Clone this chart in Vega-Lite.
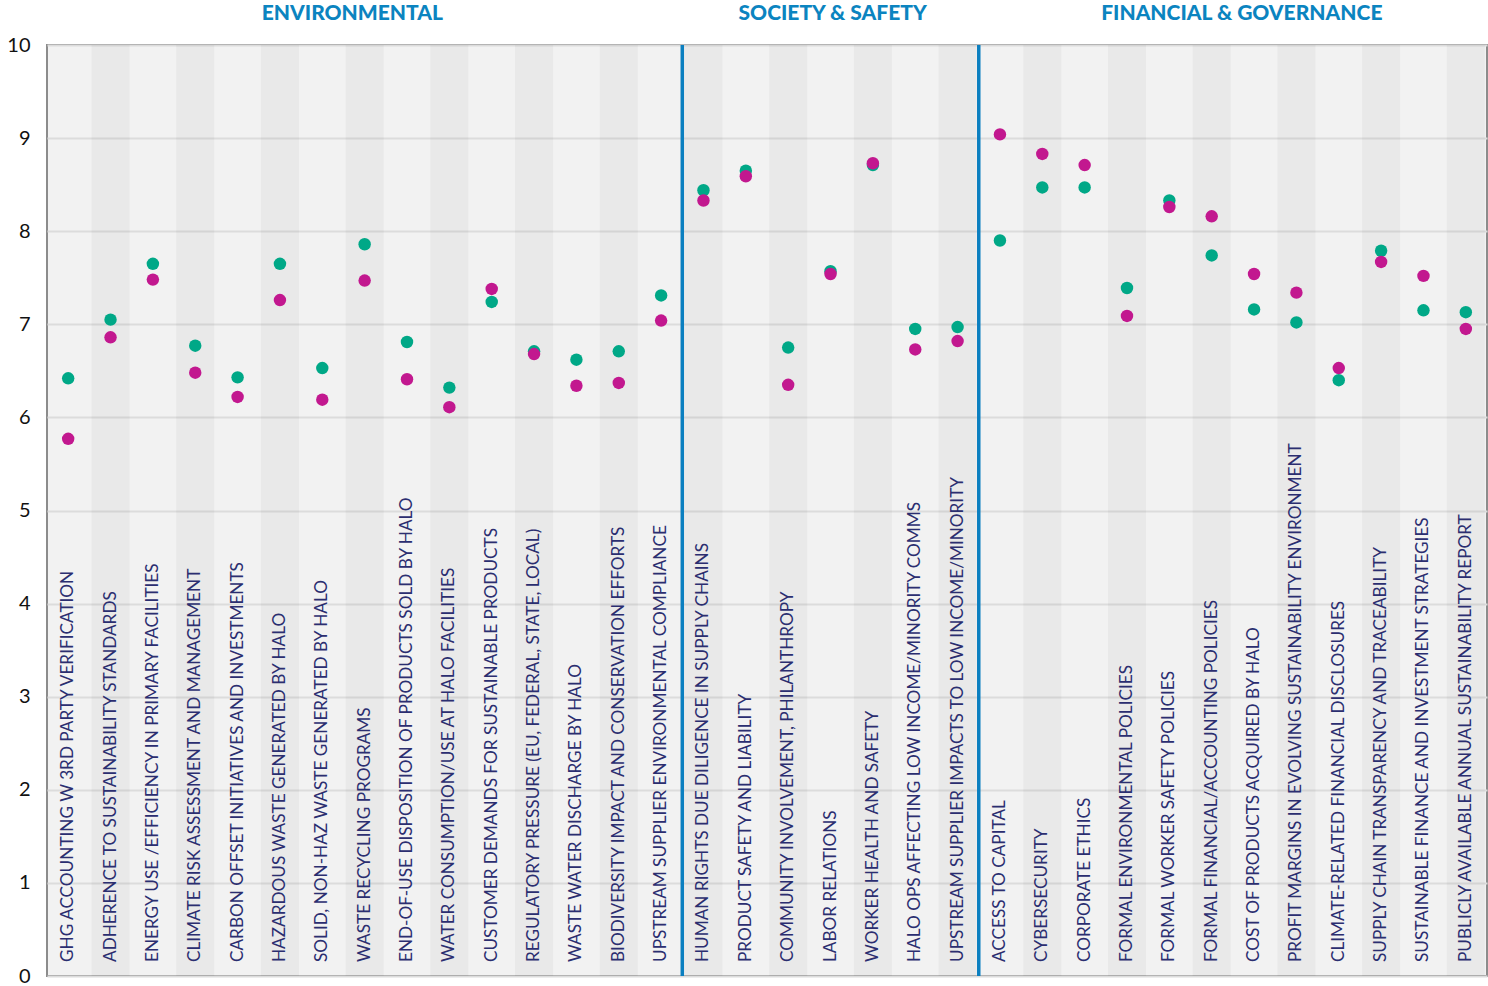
{
  "$schema": "https://vega.github.io/schema/vega-lite/v6.json",
  "width": 1440,
  "height": 931,
  "autosize": "none",
  "padding": {"left": 47, "top": 45, "right": 1, "bottom": 10},
  "background": "white",
  "config": {"view": {"fill": "#f2f2f2", "stroke": "#8c8c8c", "strokeWidth": 2}, "font": "Lato"},
  "data": {"values": [
    {"cat": "GHG ACCOUNTING W 3RD PARTY VERIFICATION", "group": "ENVIRONMENTAL", "Series 1": 6.42, "Series 2": 5.77},
    {"cat": "ADHERENCE TO  SUSTAINABILITY STANDARDS", "group": "ENVIRONMENTAL", "Series 1": 7.05, "Series 2": 6.86},
    {"cat": "ENERGY USE /EFFICIENCY IN PRIMARY FACILITIES", "group": "ENVIRONMENTAL", "Series 1": 7.65, "Series 2": 7.48},
    {"cat": "CLIMATE RISK ASSESSMENT AND MANAGEMENT", "group": "ENVIRONMENTAL", "Series 1": 6.77, "Series 2": 6.48},
    {"cat": "CARBON OFFSET INITIATIVES AND INVESTMENTS", "group": "ENVIRONMENTAL", "Series 1": 6.43, "Series 2": 6.22},
    {"cat": "HAZARDOUS WASTE GENERATED BY HALO", "group": "ENVIRONMENTAL", "Series 1": 7.65, "Series 2": 7.26},
    {"cat": "SOLID, NON-HAZ  WASTE GENERATED BY HALO", "group": "ENVIRONMENTAL", "Series 1": 6.53, "Series 2": 6.19},
    {"cat": "WASTE RECYCLING PROGRAMS", "group": "ENVIRONMENTAL", "Series 1": 7.86, "Series 2": 7.47},
    {"cat": "END-OF-USE DISPOSITION OF  PRODUCTS SOLD BY HALO", "group": "ENVIRONMENTAL", "Series 1": 6.81, "Series 2": 6.41},
    {"cat": "WATER CONSUMPTION/USE AT HALO FACILITIES", "group": "ENVIRONMENTAL", "Series 1": 6.32, "Series 2": 6.11},
    {"cat": "CUSTOMER DEMANDS FOR SUSTAINABLE PRODUCTS", "group": "ENVIRONMENTAL", "Series 1": 7.24, "Series 2": 7.38},
    {"cat": "REGULATORY PRESSURE (EU, FEDERAL, STATE, LOCAL)", "group": "ENVIRONMENTAL", "Series 1": 6.71, "Series 2": 6.68},
    {"cat": "WASTE WATER DISCHARGE BY HALO", "group": "ENVIRONMENTAL", "Series 1": 6.62, "Series 2": 6.34},
    {"cat": "BIODIVERSITY IMPACT AND CONSERVATION EFFORTS", "group": "ENVIRONMENTAL", "Series 1": 6.71, "Series 2": 6.37},
    {"cat": "UPSTREAM SUPPLIER ENVIRONMENTAL COMPLIANCE", "group": "ENVIRONMENTAL", "Series 1": 7.31, "Series 2": 7.04},
    {"cat": "HUMAN RIGHTS DUE DILIGENCE IN SUPPLY CHAINS", "group": "SOCIETY & SAFETY", "Series 1": 8.44, "Series 2": 8.33},
    {"cat": "PRODUCT SAFETY AND LIABILITY", "group": "SOCIETY & SAFETY", "Series 1": 8.65, "Series 2": 8.59},
    {"cat": "COMMUNITY INVOLVEMENT, PHILANTHROPY", "group": "SOCIETY & SAFETY", "Series 1": 6.75, "Series 2": 6.35},
    {"cat": "LABOR RELATIONS", "group": "SOCIETY & SAFETY", "Series 1": 7.57, "Series 2": 7.54},
    {"cat": "WORKER HEALTH AND SAFETY", "group": "SOCIETY & SAFETY", "Series 1": 8.71, "Series 2": 8.73},
    {"cat": "HALO OPS AFFECTING LOW INCOME/MINORITY COMMS", "group": "SOCIETY & SAFETY", "Series 1": 6.95, "Series 2": 6.73},
    {"cat": "UPSTREAM SUPPLIER IMPACTS TO LOW INCOME/MINORITY", "group": "SOCIETY & SAFETY", "Series 1": 6.97, "Series 2": 6.82},
    {"cat": "ACCESS TO CAPITAL", "group": "FINANCIAL & GOVERNANCE", "Series 1": 7.90, "Series 2": 9.04},
    {"cat": "CYBERSECURITY", "group": "FINANCIAL & GOVERNANCE", "Series 1": 8.47, "Series 2": 8.83},
    {"cat": "CORPORATE ETHICS", "group": "FINANCIAL & GOVERNANCE", "Series 1": 8.47, "Series 2": 8.71},
    {"cat": "FORMAL ENVIRONMENTAL POLICIES", "group": "FINANCIAL & GOVERNANCE", "Series 1": 7.39, "Series 2": 7.09},
    {"cat": "FORMAL WORKER SAFETY POLICIES", "group": "FINANCIAL & GOVERNANCE", "Series 1": 8.33, "Series 2": 8.26},
    {"cat": "FORMAL FINANCIAL/ACCOUNTING POLICIES", "group": "FINANCIAL & GOVERNANCE", "Series 1": 7.74, "Series 2": 8.16},
    {"cat": "COST OF PRODUCTS ACQUIRED BY HALO", "group": "FINANCIAL & GOVERNANCE", "Series 1": 7.16, "Series 2": 7.54},
    {"cat": "PROFIT MARGINS IN EVOLVING SUSTAINABILITY ENVIRONMENT", "group": "FINANCIAL & GOVERNANCE", "Series 1": 7.02, "Series 2": 7.34},
    {"cat": "CLIMATE-RELATED FINANCIAL DISCLOSURES", "group": "FINANCIAL & GOVERNANCE", "Series 1": 6.40, "Series 2": 6.53},
    {"cat": "SUPPLY CHAIN TRANSPARENCY AND TRACEABILITY", "group": "FINANCIAL & GOVERNANCE", "Series 1": 7.79, "Series 2": 7.67},
    {"cat": "SUSTAINABLE FINANCE  AND INVESTMENT STRATEGIES", "group": "FINANCIAL & GOVERNANCE", "Series 1": 7.15, "Series 2": 7.52},
    {"cat": "PUBLICLY AVAILABLE  ANNUAL SUSTAINABILITY REPORT", "group": "FINANCIAL & GOVERNANCE", "Series 1": 7.13, "Series 2": 6.95}
  ]},
  "transform": [{"window": [{"op": "row_number", "as": "idx"}]}],
  "encoding": {
    "x": {"field": "cat", "type": "nominal", "sort": null, "scale": {"paddingInner": 0, "paddingOuter": 0}, "axis": null}
  },
  "layer": [
    {
      "mark": {"type": "rect", "width": {"band": 0.9}, "fill": "#000000"},
      "encoding": {
        "y": {"datum": 0, "type": "quantitative", "scale": {"domain": [0, 10], "nice": false, "zero": true},
          "axis": {"values": [0,1,2,3,4,5,6,7,8,9,10], "format": "d", "domain": false, "ticks": false, "grid": true, "gridColor": "#dcdcdc", "gridWidth": 2, "labelFontSize": 20, "labelColor": "#111111", "labelPadding": 17, "title": null, "labelFont": "Lato"}},
        "y2": {"datum": 10},
        "fillOpacity": {"condition": {"test": "datum.idx % 2 === 0", "value": 0.036}, "value": 0}
      }
    },
    {
      "mark": {"type": "text", "angle": 270, "align": "left", "baseline": "middle", "dx": 14, "fontSize": 17.2, "color": "#2b2e70"},
      "encoding": {"y": {"datum": 0, "type": "quantitative"}, "text": {"field": "cat"}}
    },
    {
      "transform": [{"filter": "datum.cat === 'HUMAN RIGHTS DUE DILIGENCE IN SUPPLY CHAINS' || datum.cat === 'ACCESS TO CAPITAL'"}],
      "mark": {"type": "rule", "color": "#0b7fc0", "strokeWidth": 3.5},
      "encoding": {"x": {"field": "cat", "type": "nominal", "sort": null, "bandPosition": 0}}
    },
    {
      "transform": [{"fold": ["Series 1", "Series 2"], "as": ["series", "score"]}],
      "mark": {"type": "point", "filled": true, "opacity": 1, "size": 155},
      "encoding": {
        "y": {"field": "score", "type": "quantitative"},
        "color": {"field": "series", "type": "nominal", "scale": {"domain": ["Series 1", "Series 2"], "range": ["#00a887", "#c2188f"]}, "legend": null}
      }
    },
    {
      "transform": [{"filter": "datum.cat === 'WASTE RECYCLING PROGRAMS' || datum.cat === 'COST OF PRODUCTS ACQUIRED BY HALO'"}],
      "mark": {"type": "text", "align": "center", "baseline": "middle", "dy": -31, "fontSize": 21, "fontWeight": 900, "color": "#0b84c0"},
      "encoding": {"x": {"field": "cat", "type": "nominal", "sort": null, "bandPosition": 0.21}, "y": {"datum": 10, "type": "quantitative"}, "text": {"field": "group"}}
    },
    {
      "transform": [{"filter": "datum.cat === 'LABOR RELATIONS'"}],
      "mark": {"type": "text", "align": "center", "baseline": "middle", "dy": -31, "fontSize": 21, "fontWeight": 900, "color": "#0b84c0"},
      "encoding": {"x": {"field": "cat", "type": "nominal", "sort": null, "bandPosition": 0.55}, "y": {"datum": 10, "type": "quantitative"}, "text": {"field": "group"}}
    }
  ]
}
